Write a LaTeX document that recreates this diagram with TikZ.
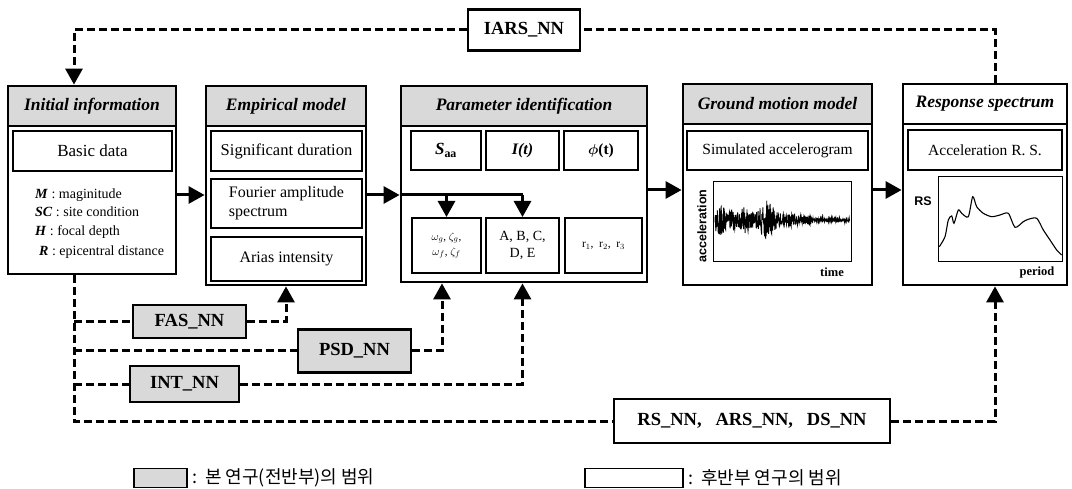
\documentclass[tikz,border=0pt]{standalone}
\usepackage{fontspec}
\setmainfont{Liberation Serif}
\newfontfamily\kr{Noto Sans CJK KR}
\newfontfamily\sansf{Liberation Sans}
\usetikzlibrary{arrows.meta,calc}
\begin{document}
\begin{tikzpicture}[x=1pt,y=-1pt,
 obox/.style={draw, line width=2.8pt, fill=white, inner sep=0pt},
 hbox/.style={draw, line width=2.8pt, fill=gray!30, inner sep=0pt, font=\fontsize{17.5}{19}\selectfont\bfseries\itshape},
 ibox/.style={draw, line width=2pt, fill=white, inner sep=0pt, font=\fontsize{15.5}{17.5}\selectfont},
 nnbox/.style={draw, line width=2.8pt, inner sep=0pt, font=\fontsize{18.5}{20}\selectfont\bfseries},
 dl/.style={line width=3pt, dash pattern=on 8pt off 4pt},
 arr/.style={line width=3pt, -{Triangle[length=16pt,width=17pt]}},
 darr/.style={dl, -{Triangle[length=16pt,width=17pt]}},
 itxt/.style={anchor=base west, inner sep=0pt, font=\fontsize{14}{15}\selectfont},
 axl/.style={inner sep=0pt, font=\fontsize{12.5}{14}\selectfont\bfseries},
 legt/.style={anchor=west, inner sep=0pt, font=\kr\fontsize{18}{20}\selectfont}
]
\useasboundingbox (0,0) rectangle (1072,489);
% ---------- Initial information
\node[obox, minimum width=168pt, minimum height=188pt] (init) at (92,180) {};
\node[hbox, minimum width=168pt, minimum height=40pt] (initH) at (92,106) {Initial information};
\node[ibox, minimum width=159pt, minimum height=40pt, font=\fontsize{17}{19}\selectfont] (basic) at (92.5,151) {Basic data};
\node[itxt] (m1) at (35,199) {\textbf{\textit{M}} : maginitude};
\node[itxt] (m2) at (35,217) {\textbf{\textit{SC}} : site condition};
\node[itxt] (m3) at (35,236) {\textbf{\textit{H}} : focal depth};
\node[itxt] (m4) at (39,256) {\textbf{\textit{R}} : epicentral distance};
% ---------- Empirical model
\node[obox, minimum width=160pt, minimum height=199pt] (emp) at (286,185.5) {};
\node[hbox, minimum width=160pt, minimum height=40pt] (empH) at (286,106) {Empirical model};
\node[ibox, minimum width=151pt, minimum height=40pt, font=\fontsize{16.5}{18}\selectfont] (sig) at (286.5,151) {Significant duration};
\node[ibox, minimum width=151pt, minimum height=49pt, align=left, font=\fontsize{16}{19}\selectfont] (four) at (286.5,203.5) {Fourier amplitude\\spectrum};
\node[ibox, minimum width=151pt, minimum height=44pt, font=\fontsize{16}{18}\selectfont] (arias) at (286.5,259) {Arias intensity};
% ---------- Parameter identification
\node[obox, minimum width=246pt, minimum height=196pt] (par) at (524,184) {};
\node[hbox, minimum width=246pt, minimum height=40pt] (parH) at (524,106) {Parameter identification};
\node[ibox, minimum width=70pt, minimum height=39pt, font=\fontsize{17}{19}\selectfont] (saa) at (446,150.5) {\textbf{\textit{S}}\textsubscript{\textbf{aa}}};
\node[ibox, minimum width=73pt, minimum height=39pt, font=\fontsize{16}{18}\selectfont] (it) at (522.5,150.5) {\textbf{\textit{I(t)}}};
\node[ibox, minimum width=74pt, minimum height=39pt] (phi) at (601,150.5) {{\boldmath$\phi$}\textbf{(t)}};
\node[ibox, minimum width=69pt, minimum height=55pt, align=center, font=\fontsize{11}{15}\selectfont] (om) at (446.5,245.5) {$\omega_g$, $\zeta_g$,\\$\omega_f$, $\zeta_f$};
\node[ibox, minimum width=73pt, minimum height=55pt, align=center, font=\fontsize{14}{17}\selectfont] (abc) at (522.5,245.5) {A, B, C,\\D, E};
\node[ibox, minimum width=77pt, minimum height=55pt, font=\fontsize{11.5}{13}\selectfont] (rr) at (603.5,245.5) {r$_1$,\ \ r$_2$,\ \ r$_3$};
% ---------- Ground motion model
\node[obox, minimum width=189pt, minimum height=201pt] (gm) at (777.5,184.5) {};
\node[hbox, minimum width=189pt, minimum height=40pt] (gmH) at (777.5,104) {Ground motion model};
\node[ibox, minimum width=181pt, minimum height=39pt] (sim) at (777.5,150.5) {Simulated accelerogram};
\node[draw, line width=1pt, minimum width=138pt, minimum height=80pt, inner sep=0pt] (accplot) at (782,222) {};
\node[axl, rotate=90, font=\sansf\fontsize{12.5}{14}\selectfont\bfseries] (accL) at (702,226) {acceleration};
\node[axl] (timeL) at (832,272) {time};
\pgfmathsetseed{7}
\draw[line width=0.9pt] plot[domain=0:135, samples=520, variable=\s]
  ({715+\s}, {220 + ((\s<80) ? (7+14*exp(-((\s-52)/7)^2)+9*exp(-((\s-5)/5)^2)+6*exp(-((\s-30)/5)^2)+5*exp(-((\s-18)/3)^2)) : ((\s<97) ? 4.5 : 1.8))*rand});
% ---------- Response spectrum
\node[obox, minimum width=164pt, minimum height=201pt] (rs) at (985,184.5) {};
\node[hbox, fill=white, minimum width=164pt, minimum height=40pt] (rsH) at (985,104) {Response spectrum};
\node[ibox, minimum width=154pt, minimum height=40pt] (accrs) at (985,150) {Acceleration R. S.};
\node[draw, line width=1pt, minimum width=124pt, minimum height=85pt, inner sep=0pt] (rsplot) at (1000,219.5) {};
\node[axl, font=\sansf\fontsize{12.5}{14}\selectfont\bfseries] (rsL) at (923,201) {RS};
\node[axl] (perL) at (1037,272) {period};
\draw[line width=1.1pt] plot[smooth, tension=0.45] coordinates {(939.3,246.7) (945,236.7) (948.3,220) (951.7,216) (954,223.3) (958.3,210) (961.7,213.3) (968.3,216.7) (972.7,196.7) (976.7,206.7) (983.3,213.3) (991.7,216.7) (1000,215) (1008.3,213.3) (1015,227.3) (1023.3,221.7) (1028.3,219.3) (1036.7,218.3) (1043.3,230) (1050,240) (1056.7,250) (1061.7,255)};
% ---------- NN boxes
\node[nnbox, fill=white, minimum width=112pt, minimum height=41pt] (iars) at (524,30) {IARS\_NN};
\node[nnbox, fill=gray!30, minimum width=113pt, minimum height=33pt] (fasnn) at (189.5,321.5) {FAS\_NN};
\node[nnbox, fill=gray!30, minimum width=113pt, minimum height=43pt] (psdnn) at (354.5,351) {PSD\_NN};
\node[nnbox, fill=gray!30, minimum width=109pt, minimum height=36pt] (intnn) at (184.5,384) {INT\_NN};
\node[nnbox, fill=white, minimum width=276pt, minimum height=44pt] (rsnn) at (752,421) {RS\_NN,\ \ \ ARS\_NN,\ \ \ DS\_NN};
% ---------- helper coordinates
\coordinate (L1) at (0,195);
\coordinate (L2) at (0,190);
\coordinate (bx) at (74,0);
\coordinate (px) at (442,0);
\coordinate (tx) at (995,0);
% ---------- solid arrows
\draw[arr] (init.east |- L1) -- (emp.west |- L1);
\draw[arr] (emp.east |- L1) -- (par.west |- L1);
\draw[line width=3pt] (par.west |- L1) -- (abc.north |- L1);
\draw[arr] (om.north |- L1) -- (om.north);
\draw[arr] (abc.north |- L1) -- (abc.north);
\draw[arr] (par.east |- L2) -- (gm.west |- L2);
\draw[arr] (gm.east |- L2) -- (rs.west |- L2);
% ---------- dashed connectors
\draw[dl] (rs.north -| tx) |- (iars.east);
\draw[darr] (iars.west) -| (init.north -| bx);
\draw[dl] (init.south -| bx) |- (rsnn.west);
\draw[dl] (bx |- fasnn.west) -- (fasnn.west);
\draw[darr] (fasnn.east) -| (emp.south);
\draw[dl] (bx |- psdnn.west) -- (psdnn.west);
\draw[darr] (psdnn.east) -| (px |- par.south);
\draw[dl] (bx |- intnn.west) -- (intnn.west);
\draw[darr] (intnn.east) -| (abc |- par.south);
\draw[darr] (rsnn.east) -| (tx |- rs.south);
% ---------- legend
\node[draw, line width=1.6pt, fill=gray!30, minimum width=53pt, minimum height=19pt, inner sep=0pt] (leg1) at (160.5,478) {};
\node[legt] (leg1t) at (192,478) {:\ \ 본\ 연구(전반부)의\ 범위};
\node[draw, line width=1.6pt, fill=white, minimum width=98pt, minimum height=19pt, inner sep=0pt] (leg2) at (634,478) {};
\node[legt] (leg2t) at (688,478) {:\ \ 후반부\ 연구의\ 범위};
\end{tikzpicture}
\end{document}
